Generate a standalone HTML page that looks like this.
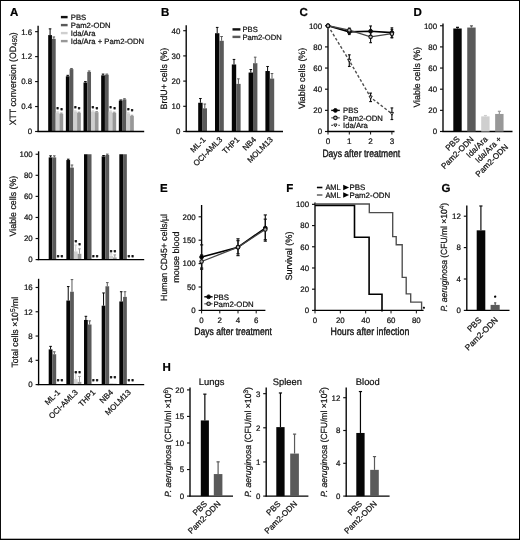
<!DOCTYPE html>
<html lang="en">
<head>
<meta charset="utf-8">
<title>Figure</title>
<style>
html,body{margin:0;padding:0;background:#fff;}
body{width:520px;height:540px;overflow:hidden;}
svg{display:block;filter:grayscale(1);font-family:"Liberation Sans",sans-serif;}
</style>
</head>
<body>
<svg width="520" height="540" viewBox="0 0 520 540" text-rendering="geometricPrecision">
<rect x="0" y="0" width="520" height="540" fill="#fff"/>
<text transform="translate(10 16.4)" font-size="11.5" fill="#000" font-weight="bold" stroke="#000" stroke-width="0.22">A</text>
<text transform="translate(161 16)" font-size="11.5" fill="#000" font-weight="bold" stroke="#000" stroke-width="0.22">B</text>
<text transform="translate(299.5 16)" font-size="11.5" fill="#000" font-weight="bold" stroke="#000" stroke-width="0.22">C</text>
<text transform="translate(413.5 16)" font-size="11.5" fill="#000" font-weight="bold" stroke="#000" stroke-width="0.22">D</text>
<text transform="translate(160 191.5)" font-size="11.5" fill="#000" font-weight="bold" stroke="#000" stroke-width="0.22">E</text>
<text transform="translate(286.3 191.5)" font-size="11.5" fill="#000" font-weight="bold" stroke="#000" stroke-width="0.22">F</text>
<text transform="translate(441.6 191.7)" font-size="11.5" fill="#000" font-weight="bold" stroke="#000" stroke-width="0.22">G</text>
<text transform="translate(162.4 371.2)" font-size="11.5" fill="#000" font-weight="bold" stroke="#000" stroke-width="0.22">H</text>
<line x1="38.1" y1="25.8" x2="38.1" y2="132" stroke="#000" stroke-width="1.35"/>
<line x1="35.1" y1="131.5" x2="38.1" y2="131.5" stroke="#111" stroke-width="1.15"/>
<text transform="translate(32.2 134.35)" font-size="7.9" fill="#111" text-anchor="end" stroke="#111" stroke-width="0.22">0</text>
<line x1="35.1" y1="106.54" x2="38.1" y2="106.54" stroke="#111" stroke-width="1.15"/>
<text transform="translate(32.2 109.39)" font-size="7.9" fill="#111" text-anchor="end" stroke="#111" stroke-width="0.22">0.4</text>
<line x1="35.1" y1="81.58" x2="38.1" y2="81.58" stroke="#111" stroke-width="1.15"/>
<text transform="translate(32.2 84.43)" font-size="7.9" fill="#111" text-anchor="end" stroke="#111" stroke-width="0.22">0.8</text>
<line x1="35.1" y1="56.62" x2="38.1" y2="56.62" stroke="#111" stroke-width="1.15"/>
<text transform="translate(32.2 59.47)" font-size="7.9" fill="#111" text-anchor="end" stroke="#111" stroke-width="0.22">1.2</text>
<line x1="35.1" y1="31.66" x2="38.1" y2="31.66" stroke="#111" stroke-width="1.15"/>
<text transform="translate(32.2 34.51)" font-size="7.9" fill="#111" text-anchor="end" stroke="#111" stroke-width="0.22">1.6</text>
<line x1="50.08" y1="28.85" x2="50.08" y2="35.09" stroke="#060606" stroke-width="1"/>
<line x1="48.78" y1="28.85" x2="51.38" y2="28.85" stroke="#060606" stroke-width="1"/>
<rect x="48.2" y="35.09" width="3.75" height="96.41" fill="#060606"/>
<line x1="53.83" y1="36.96" x2="53.83" y2="38.84" stroke="#5a5a5a" stroke-width="1"/>
<line x1="52.53" y1="36.96" x2="55.12" y2="36.96" stroke="#5a5a5a" stroke-width="1"/>
<rect x="51.95" y="38.84" width="3.75" height="92.66" fill="#5a5a5a"/>
<line x1="57.58" y1="111.84" x2="57.58" y2="112.47" stroke="#cfcfcf" stroke-width="1"/>
<line x1="56.28" y1="111.84" x2="58.88" y2="111.84" stroke="#cfcfcf" stroke-width="1"/>
<rect x="55.7" y="112.47" width="3.75" height="19.03" fill="#cfcfcf"/>
<line x1="61.33" y1="113.09" x2="61.33" y2="113.72" stroke="#989898" stroke-width="1"/>
<line x1="60.03" y1="113.09" x2="62.62" y2="113.09" stroke="#989898" stroke-width="1"/>
<rect x="59.45" y="113.72" width="3.75" height="17.78" fill="#989898"/>
<line x1="67.73" y1="75.34" x2="67.73" y2="76.28" stroke="#060606" stroke-width="1"/>
<line x1="66.44" y1="75.34" x2="69.03" y2="75.34" stroke="#060606" stroke-width="1"/>
<rect x="65.86" y="76.28" width="3.75" height="55.22" fill="#060606"/>
<line x1="71.48" y1="68.48" x2="71.48" y2="69.1" stroke="#5a5a5a" stroke-width="1"/>
<line x1="70.19" y1="68.48" x2="72.78" y2="68.48" stroke="#5a5a5a" stroke-width="1"/>
<rect x="69.61" y="69.1" width="3.75" height="62.4" fill="#5a5a5a"/>
<line x1="75.23" y1="110.91" x2="75.23" y2="111.53" stroke="#cfcfcf" stroke-width="1"/>
<line x1="73.94" y1="110.91" x2="76.53" y2="110.91" stroke="#cfcfcf" stroke-width="1"/>
<rect x="73.36" y="111.53" width="3.75" height="19.97" fill="#cfcfcf"/>
<line x1="78.98" y1="112.16" x2="78.98" y2="112.78" stroke="#989898" stroke-width="1"/>
<line x1="77.69" y1="112.16" x2="80.28" y2="112.16" stroke="#989898" stroke-width="1"/>
<rect x="77.11" y="112.78" width="3.75" height="18.72" fill="#989898"/>
<line x1="85.4" y1="81.58" x2="85.4" y2="82.52" stroke="#060606" stroke-width="1"/>
<line x1="84.1" y1="81.58" x2="86.7" y2="81.58" stroke="#060606" stroke-width="1"/>
<rect x="83.52" y="82.52" width="3.75" height="48.98" fill="#060606"/>
<line x1="89.15" y1="70.97" x2="89.15" y2="71.91" stroke="#5a5a5a" stroke-width="1"/>
<line x1="87.85" y1="70.97" x2="90.45" y2="70.97" stroke="#5a5a5a" stroke-width="1"/>
<rect x="87.27" y="71.91" width="3.75" height="59.59" fill="#5a5a5a"/>
<line x1="92.9" y1="110.91" x2="92.9" y2="111.53" stroke="#cfcfcf" stroke-width="1"/>
<line x1="91.6" y1="110.91" x2="94.2" y2="110.91" stroke="#cfcfcf" stroke-width="1"/>
<rect x="91.02" y="111.53" width="3.75" height="19.97" fill="#cfcfcf"/>
<line x1="96.65" y1="111.53" x2="96.65" y2="112.16" stroke="#989898" stroke-width="1"/>
<line x1="95.35" y1="111.53" x2="97.95" y2="111.53" stroke="#989898" stroke-width="1"/>
<rect x="94.77" y="112.16" width="3.75" height="19.34" fill="#989898"/>
<line x1="103.06" y1="74.09" x2="103.06" y2="75.34" stroke="#060606" stroke-width="1"/>
<line x1="101.76" y1="74.09" x2="104.36" y2="74.09" stroke="#060606" stroke-width="1"/>
<rect x="101.18" y="75.34" width="3.75" height="56.16" fill="#060606"/>
<line x1="106.81" y1="74.09" x2="106.81" y2="74.72" stroke="#5a5a5a" stroke-width="1"/>
<line x1="105.51" y1="74.09" x2="108.11" y2="74.09" stroke="#5a5a5a" stroke-width="1"/>
<rect x="104.93" y="74.72" width="3.75" height="56.78" fill="#5a5a5a"/>
<line x1="110.56" y1="110.91" x2="110.56" y2="111.53" stroke="#cfcfcf" stroke-width="1"/>
<line x1="109.26" y1="110.91" x2="111.86" y2="110.91" stroke="#cfcfcf" stroke-width="1"/>
<rect x="108.68" y="111.53" width="3.75" height="19.97" fill="#cfcfcf"/>
<line x1="114.31" y1="112.16" x2="114.31" y2="112.78" stroke="#989898" stroke-width="1"/>
<line x1="113.01" y1="112.16" x2="115.61" y2="112.16" stroke="#989898" stroke-width="1"/>
<rect x="112.43" y="112.78" width="3.75" height="18.72" fill="#989898"/>
<line x1="120.72" y1="99.99" x2="120.72" y2="100.61" stroke="#060606" stroke-width="1"/>
<line x1="119.42" y1="99.99" x2="122.02" y2="99.99" stroke="#060606" stroke-width="1"/>
<rect x="118.84" y="100.61" width="3.75" height="30.89" fill="#060606"/>
<line x1="124.47" y1="98.74" x2="124.47" y2="99.36" stroke="#5a5a5a" stroke-width="1"/>
<line x1="123.17" y1="98.74" x2="125.77" y2="98.74" stroke="#5a5a5a" stroke-width="1"/>
<rect x="122.59" y="99.36" width="3.75" height="32.14" fill="#5a5a5a"/>
<line x1="128.22" y1="112.78" x2="128.22" y2="113.4" stroke="#cfcfcf" stroke-width="1"/>
<line x1="126.92" y1="112.78" x2="129.52" y2="112.78" stroke="#cfcfcf" stroke-width="1"/>
<rect x="126.34" y="113.4" width="3.75" height="18.1" fill="#cfcfcf"/>
<line x1="131.97" y1="115.28" x2="131.97" y2="115.9" stroke="#989898" stroke-width="1"/>
<line x1="130.66" y1="115.28" x2="133.27" y2="115.28" stroke="#989898" stroke-width="1"/>
<rect x="130.09" y="115.9" width="3.75" height="15.6" fill="#989898"/>
<line x1="37.5" y1="131.5" x2="144.2" y2="131.5" stroke="#000" stroke-width="1.35"/>
<text transform="translate(57.58 111.06)" font-size="5.6" fill="#000" text-anchor="middle" font-weight="bold" stroke="#000" stroke-width="0.42">*</text>
<text transform="translate(61.53 111.88)" font-size="5.6" fill="#000" text-anchor="middle" font-weight="bold" stroke="#000" stroke-width="0.42">*</text>
<text transform="translate(75.23 110.12)" font-size="5.6" fill="#000" text-anchor="middle" font-weight="bold" stroke="#000" stroke-width="0.42">*</text>
<text transform="translate(79.19 110.94)" font-size="5.6" fill="#000" text-anchor="middle" font-weight="bold" stroke="#000" stroke-width="0.42">*</text>
<text transform="translate(92.9 110.12)" font-size="5.6" fill="#000" text-anchor="middle" font-weight="bold" stroke="#000" stroke-width="0.42">*</text>
<text transform="translate(96.85 110.63)" font-size="5.6" fill="#000" text-anchor="middle" font-weight="bold" stroke="#000" stroke-width="0.42">*</text>
<text transform="translate(110.56 110.12)" font-size="5.6" fill="#000" text-anchor="middle" font-weight="bold" stroke="#000" stroke-width="0.42">*</text>
<text transform="translate(114.51 110.94)" font-size="5.6" fill="#000" text-anchor="middle" font-weight="bold" stroke="#000" stroke-width="0.42">*</text>
<text transform="translate(128.22 111.99)" font-size="5.6" fill="#000" text-anchor="middle" font-weight="bold" stroke="#000" stroke-width="0.42">*</text>
<text transform="translate(132.16 113.44)" font-size="5.6" fill="#000" text-anchor="middle" font-weight="bold" stroke="#000" stroke-width="0.42">*</text>
<text transform="translate(15.7 125.3) rotate(-90) scale(0.95 1)" font-size="9.2" fill="#111" stroke="#111" stroke-width="0.22">XTT conversion (OD<tspan font-size="6.8" dy="1.6">450</tspan><tspan dy="-1.6">)</tspan></text>
<rect x="60.9" y="15.9" width="6.7" height="2.4" fill="#111"/>
<text transform="translate(70.8 19.8)" font-size="7.7" fill="#111" stroke="#111" stroke-width="0.22">PBS</text>
<rect x="60.9" y="23.9" width="6.7" height="2.4" fill="#5a5a5a"/>
<text transform="translate(70.8 27.8)" font-size="7.7" fill="#111" stroke="#111" stroke-width="0.22">Pam2-ODN</text>
<rect x="60.9" y="31.9" width="6.7" height="2.4" fill="#cfcfcf"/>
<text transform="translate(70.8 35.8)" font-size="7.7" fill="#111" stroke="#111" stroke-width="0.22">Ida/Ara</text>
<rect x="60.9" y="39.9" width="6.7" height="2.4" fill="#989898"/>
<text transform="translate(70.8 43.8)" font-size="7.7" fill="#111" stroke="#111" stroke-width="0.22">Ida/Ara + Pam2-ODN</text>
<line x1="38.6" y1="151.3" x2="38.6" y2="260.1" stroke="#000" stroke-width="1.35"/>
<line x1="35.6" y1="259.6" x2="38.6" y2="259.6" stroke="#111" stroke-width="1.15"/>
<text transform="translate(32.7 262.45)" font-size="7.9" fill="#111" text-anchor="end" stroke="#111" stroke-width="0.22">0</text>
<line x1="35.6" y1="238.53" x2="38.6" y2="238.53" stroke="#111" stroke-width="1.15"/>
<text transform="translate(32.7 241.38)" font-size="7.9" fill="#111" text-anchor="end" stroke="#111" stroke-width="0.22">20</text>
<line x1="35.6" y1="217.46" x2="38.6" y2="217.46" stroke="#111" stroke-width="1.15"/>
<text transform="translate(32.7 220.31)" font-size="7.9" fill="#111" text-anchor="end" stroke="#111" stroke-width="0.22">40</text>
<line x1="35.6" y1="196.39" x2="38.6" y2="196.39" stroke="#111" stroke-width="1.15"/>
<text transform="translate(32.7 199.24)" font-size="7.9" fill="#111" text-anchor="end" stroke="#111" stroke-width="0.22">60</text>
<line x1="35.6" y1="175.32" x2="38.6" y2="175.32" stroke="#111" stroke-width="1.15"/>
<text transform="translate(32.7 178.17)" font-size="7.9" fill="#111" text-anchor="end" stroke="#111" stroke-width="0.22">80</text>
<line x1="35.6" y1="154.25" x2="38.6" y2="154.25" stroke="#111" stroke-width="1.15"/>
<text transform="translate(32.7 157.1)" font-size="7.9" fill="#111" text-anchor="end" stroke="#111" stroke-width="0.22">100</text>
<line x1="50.58" y1="155.83" x2="50.58" y2="157.41" stroke="#060606" stroke-width="1"/>
<line x1="49.28" y1="155.83" x2="51.88" y2="155.83" stroke="#060606" stroke-width="1"/>
<rect x="48.7" y="157.41" width="3.75" height="102.19" fill="#060606"/>
<line x1="54.33" y1="155.83" x2="54.33" y2="157.41" stroke="#5a5a5a" stroke-width="1"/>
<line x1="53.03" y1="155.83" x2="55.62" y2="155.83" stroke="#5a5a5a" stroke-width="1"/>
<rect x="52.45" y="157.41" width="3.75" height="102.19" fill="#5a5a5a"/>
<line x1="68.23" y1="159.2" x2="68.23" y2="160.04" stroke="#060606" stroke-width="1"/>
<line x1="66.94" y1="159.2" x2="69.53" y2="159.2" stroke="#060606" stroke-width="1"/>
<rect x="66.36" y="160.04" width="3.75" height="99.56" fill="#060606"/>
<line x1="71.98" y1="165" x2="71.98" y2="167.63" stroke="#5a5a5a" stroke-width="1"/>
<line x1="70.69" y1="165" x2="73.28" y2="165" stroke="#5a5a5a" stroke-width="1"/>
<rect x="70.11" y="167.63" width="3.75" height="91.97" fill="#5a5a5a"/>
<line x1="75.73" y1="245.06" x2="75.73" y2="251.38" stroke="#cfcfcf" stroke-width="1"/>
<line x1="74.44" y1="245.06" x2="77.03" y2="245.06" stroke="#cfcfcf" stroke-width="1"/>
<rect x="73.86" y="251.38" width="3.75" height="8.22" fill="#cfcfcf"/>
<line x1="79.48" y1="248.85" x2="79.48" y2="253.81" stroke="#989898" stroke-width="1"/>
<line x1="78.19" y1="248.85" x2="80.78" y2="248.85" stroke="#989898" stroke-width="1"/>
<rect x="77.61" y="253.81" width="3.75" height="5.79" fill="#989898"/>
<rect x="84.02" y="154.25" width="3.75" height="105.35" fill="#060606"/>
<rect x="87.77" y="154.25" width="3.75" height="105.35" fill="#5a5a5a"/>
<line x1="103.56" y1="155.51" x2="103.56" y2="156.36" stroke="#060606" stroke-width="1"/>
<line x1="102.26" y1="155.51" x2="104.86" y2="155.51" stroke="#060606" stroke-width="1"/>
<rect x="101.68" y="156.36" width="3.75" height="103.24" fill="#060606"/>
<line x1="107.31" y1="154.14" x2="107.31" y2="154.99" stroke="#5a5a5a" stroke-width="1"/>
<line x1="106.01" y1="154.14" x2="108.61" y2="154.14" stroke="#5a5a5a" stroke-width="1"/>
<rect x="105.43" y="154.99" width="3.75" height="104.61" fill="#5a5a5a"/>
<line x1="111.06" y1="253.81" x2="111.06" y2="255.91" stroke="#cfcfcf" stroke-width="1"/>
<line x1="109.76" y1="253.81" x2="112.36" y2="253.81" stroke="#cfcfcf" stroke-width="1"/>
<rect x="109.18" y="255.91" width="3.75" height="3.69" fill="#cfcfcf"/>
<line x1="114.81" y1="254.86" x2="114.81" y2="257.49" stroke="#989898" stroke-width="1"/>
<line x1="113.51" y1="254.86" x2="116.11" y2="254.86" stroke="#989898" stroke-width="1"/>
<rect x="112.93" y="257.49" width="3.75" height="2.11" fill="#989898"/>
<rect x="119.34" y="154.25" width="3.75" height="105.35" fill="#060606"/>
<rect x="123.09" y="154.25" width="3.75" height="105.35" fill="#5a5a5a"/>
<line x1="37.5" y1="259.6" x2="144.2" y2="259.6" stroke="#000" stroke-width="1.35"/>
<text transform="translate(58.08 258.89)" font-size="5.6" fill="#000" text-anchor="middle" font-weight="bold" stroke="#000" stroke-width="0.42">*</text>
<text transform="translate(61.83 258.89)" font-size="5.6" fill="#000" text-anchor="middle" font-weight="bold" stroke="#000" stroke-width="0.42">*</text>
<text transform="translate(75.73 243.99)" font-size="5.6" fill="#000" text-anchor="middle" font-weight="bold" stroke="#000" stroke-width="0.42">*</text>
<text transform="translate(79.48 247.09)" font-size="5.6" fill="#000" text-anchor="middle" font-weight="bold" stroke="#000" stroke-width="0.42">*</text>
<text transform="translate(93.4 258.89)" font-size="5.6" fill="#000" text-anchor="middle" font-weight="bold" stroke="#000" stroke-width="0.42">*</text>
<text transform="translate(97.15 258.89)" font-size="5.6" fill="#000" text-anchor="middle" font-weight="bold" stroke="#000" stroke-width="0.42">*</text>
<text transform="translate(111.06 253.89)" font-size="5.6" fill="#000" text-anchor="middle" font-weight="bold" stroke="#000" stroke-width="0.42">*</text>
<text transform="translate(114.81 253.89)" font-size="5.6" fill="#000" text-anchor="middle" font-weight="bold" stroke="#000" stroke-width="0.42">*</text>
<text transform="translate(128.72 258.89)" font-size="5.6" fill="#000" text-anchor="middle" font-weight="bold" stroke="#000" stroke-width="0.42">*</text>
<text transform="translate(132.47 258.89)" font-size="5.6" fill="#000" text-anchor="middle" font-weight="bold" stroke="#000" stroke-width="0.42">*</text>
<text transform="translate(16 236.4) rotate(-90) scale(0.97 1)" font-size="9.1" fill="#111" stroke="#111" stroke-width="0.22">Viable cells (%)</text>
<line x1="38.6" y1="278.8" x2="38.6" y2="385.1" stroke="#000" stroke-width="1.35"/>
<line x1="35.6" y1="384.6" x2="38.6" y2="384.6" stroke="#111" stroke-width="1.15"/>
<text transform="translate(32.7 387.45)" font-size="7.9" fill="#111" text-anchor="end" stroke="#111" stroke-width="0.22">0</text>
<line x1="35.6" y1="360.32" x2="38.6" y2="360.32" stroke="#111" stroke-width="1.15"/>
<text transform="translate(32.7 363.17)" font-size="7.9" fill="#111" text-anchor="end" stroke="#111" stroke-width="0.22">4</text>
<line x1="35.6" y1="336.04" x2="38.6" y2="336.04" stroke="#111" stroke-width="1.15"/>
<text transform="translate(32.7 338.89)" font-size="7.9" fill="#111" text-anchor="end" stroke="#111" stroke-width="0.22">8</text>
<line x1="35.6" y1="311.76" x2="38.6" y2="311.76" stroke="#111" stroke-width="1.15"/>
<text transform="translate(32.7 314.61)" font-size="7.9" fill="#111" text-anchor="end" stroke="#111" stroke-width="0.22">12</text>
<line x1="35.6" y1="287.48" x2="38.6" y2="287.48" stroke="#111" stroke-width="1.15"/>
<text transform="translate(32.7 290.33)" font-size="7.9" fill="#111" text-anchor="end" stroke="#111" stroke-width="0.22">16</text>
<line x1="50.58" y1="346.36" x2="50.58" y2="349.39" stroke="#060606" stroke-width="1"/>
<line x1="49.28" y1="346.36" x2="51.88" y2="346.36" stroke="#060606" stroke-width="1"/>
<rect x="48.7" y="349.39" width="3.75" height="35.21" fill="#060606"/>
<line x1="54.33" y1="351.82" x2="54.33" y2="354.25" stroke="#5a5a5a" stroke-width="1"/>
<line x1="53.03" y1="351.82" x2="55.62" y2="351.82" stroke="#5a5a5a" stroke-width="1"/>
<rect x="52.45" y="354.25" width="3.75" height="30.35" fill="#5a5a5a"/>
<line x1="68.23" y1="286.57" x2="68.23" y2="300.53" stroke="#060606" stroke-width="1"/>
<line x1="66.94" y1="286.57" x2="69.53" y2="286.57" stroke="#060606" stroke-width="1"/>
<rect x="66.36" y="300.53" width="3.75" height="84.07" fill="#060606"/>
<line x1="71.98" y1="279.59" x2="71.98" y2="291.73" stroke="#5a5a5a" stroke-width="1"/>
<line x1="70.69" y1="279.59" x2="73.28" y2="279.59" stroke="#5a5a5a" stroke-width="1"/>
<rect x="70.11" y="291.73" width="3.75" height="92.87" fill="#5a5a5a"/>
<line x1="75.73" y1="372.46" x2="75.73" y2="379.14" stroke="#cfcfcf" stroke-width="1"/>
<line x1="74.44" y1="372.46" x2="77.03" y2="372.46" stroke="#cfcfcf" stroke-width="1"/>
<rect x="73.86" y="379.14" width="3.75" height="5.46" fill="#cfcfcf"/>
<line x1="79.48" y1="376.41" x2="79.48" y2="381.87" stroke="#989898" stroke-width="1"/>
<line x1="78.19" y1="376.41" x2="80.78" y2="376.41" stroke="#989898" stroke-width="1"/>
<rect x="77.61" y="381.87" width="3.75" height="2.73" fill="#989898"/>
<line x1="85.9" y1="316.31" x2="85.9" y2="319.95" stroke="#060606" stroke-width="1"/>
<line x1="84.6" y1="316.31" x2="87.2" y2="316.31" stroke="#060606" stroke-width="1"/>
<rect x="84.02" y="319.95" width="3.75" height="64.65" fill="#060606"/>
<line x1="89.65" y1="320.87" x2="89.65" y2="324.51" stroke="#5a5a5a" stroke-width="1"/>
<line x1="88.35" y1="320.87" x2="90.95" y2="320.87" stroke="#5a5a5a" stroke-width="1"/>
<rect x="87.77" y="324.51" width="3.75" height="60.09" fill="#5a5a5a"/>
<line x1="103.56" y1="292.94" x2="103.56" y2="305.69" stroke="#060606" stroke-width="1"/>
<line x1="102.26" y1="292.94" x2="104.86" y2="292.94" stroke="#060606" stroke-width="1"/>
<rect x="101.68" y="305.69" width="3.75" height="78.91" fill="#060606"/>
<line x1="107.31" y1="282.62" x2="107.31" y2="286.27" stroke="#5a5a5a" stroke-width="1"/>
<line x1="106.01" y1="282.62" x2="108.61" y2="282.62" stroke="#5a5a5a" stroke-width="1"/>
<rect x="105.43" y="286.27" width="3.75" height="98.33" fill="#5a5a5a"/>
<rect x="109.18" y="383.08" width="3.75" height="1.52" fill="#cfcfcf"/>
<rect x="112.93" y="383.69" width="3.75" height="0.91" fill="#989898"/>
<line x1="121.22" y1="291.73" x2="121.22" y2="301.44" stroke="#060606" stroke-width="1"/>
<line x1="119.92" y1="291.73" x2="122.52" y2="291.73" stroke="#060606" stroke-width="1"/>
<rect x="119.34" y="301.44" width="3.75" height="83.16" fill="#060606"/>
<line x1="124.97" y1="291.73" x2="124.97" y2="296.89" stroke="#5a5a5a" stroke-width="1"/>
<line x1="123.67" y1="291.73" x2="126.27" y2="291.73" stroke="#5a5a5a" stroke-width="1"/>
<rect x="123.09" y="296.89" width="3.75" height="87.71" fill="#5a5a5a"/>
<line x1="37.5" y1="384.6" x2="144.2" y2="384.6" stroke="#000" stroke-width="1.35"/>
<text transform="translate(58.08 382.69)" font-size="5.6" fill="#000" text-anchor="middle" font-weight="bold" stroke="#000" stroke-width="0.42">*</text>
<text transform="translate(61.83 382.69)" font-size="5.6" fill="#000" text-anchor="middle" font-weight="bold" stroke="#000" stroke-width="0.42">*</text>
<text transform="translate(75.73 375.29)" font-size="5.6" fill="#000" text-anchor="middle" font-weight="bold" stroke="#000" stroke-width="0.42">*</text>
<text transform="translate(79.48 375.29)" font-size="5.6" fill="#000" text-anchor="middle" font-weight="bold" stroke="#000" stroke-width="0.42">*</text>
<text transform="translate(93.4 382.69)" font-size="5.6" fill="#000" text-anchor="middle" font-weight="bold" stroke="#000" stroke-width="0.42">*</text>
<text transform="translate(97.15 382.69)" font-size="5.6" fill="#000" text-anchor="middle" font-weight="bold" stroke="#000" stroke-width="0.42">*</text>
<text transform="translate(111.06 380.09)" font-size="5.6" fill="#000" text-anchor="middle" font-weight="bold" stroke="#000" stroke-width="0.42">*</text>
<text transform="translate(114.81 380.09)" font-size="5.6" fill="#000" text-anchor="middle" font-weight="bold" stroke="#000" stroke-width="0.42">*</text>
<text transform="translate(128.72 382.69)" font-size="5.6" fill="#000" text-anchor="middle" font-weight="bold" stroke="#000" stroke-width="0.42">*</text>
<text transform="translate(132.47 382.69)" font-size="5.6" fill="#000" text-anchor="middle" font-weight="bold" stroke="#000" stroke-width="0.42">*</text>
<text transform="translate(17.9 367.6) rotate(-90) scale(0.96 1)" font-size="9.1" fill="#111" stroke="#111" stroke-width="0.22">Total cells ×10<tspan font-size="6.8" dy="-3">5</tspan><tspan dy="3">/ml</tspan></text>
<text transform="translate(60.6 392.9) rotate(-45)" font-size="7.9" fill="#111" text-anchor="end" stroke="#111" stroke-width="0.22">ML-1</text>
<text transform="translate(78.26 392.9) rotate(-45)" font-size="7.9" fill="#111" text-anchor="end" stroke="#111" stroke-width="0.22">OCI-AML3</text>
<text transform="translate(95.92 392.9) rotate(-45)" font-size="7.9" fill="#111" text-anchor="end" stroke="#111" stroke-width="0.22">THP1</text>
<text transform="translate(113.58 392.9) rotate(-45)" font-size="7.9" fill="#111" text-anchor="end" stroke="#111" stroke-width="0.22">NB4</text>
<text transform="translate(131.24 392.9) rotate(-45)" font-size="7.9" fill="#111" text-anchor="end" stroke="#111" stroke-width="0.22">MOLM13</text>
<line x1="186.2" y1="25.3" x2="186.2" y2="132" stroke="#000" stroke-width="1.35"/>
<line x1="183.2" y1="131.5" x2="186.2" y2="131.5" stroke="#111" stroke-width="1.15"/>
<text transform="translate(180.3 134.35)" font-size="7.9" fill="#111" text-anchor="end" stroke="#111" stroke-width="0.22">0</text>
<line x1="183.2" y1="106.3" x2="186.2" y2="106.3" stroke="#111" stroke-width="1.15"/>
<text transform="translate(180.3 109.15)" font-size="7.9" fill="#111" text-anchor="end" stroke="#111" stroke-width="0.22">10</text>
<line x1="183.2" y1="81.1" x2="186.2" y2="81.1" stroke="#111" stroke-width="1.15"/>
<text transform="translate(180.3 83.95)" font-size="7.9" fill="#111" text-anchor="end" stroke="#111" stroke-width="0.22">20</text>
<line x1="183.2" y1="55.9" x2="186.2" y2="55.9" stroke="#111" stroke-width="1.15"/>
<text transform="translate(180.3 58.75)" font-size="7.9" fill="#111" text-anchor="end" stroke="#111" stroke-width="0.22">30</text>
<line x1="183.2" y1="30.7" x2="186.2" y2="30.7" stroke="#111" stroke-width="1.15"/>
<text transform="translate(180.3 33.55)" font-size="7.9" fill="#111" text-anchor="end" stroke="#111" stroke-width="0.22">40</text>
<line x1="200.4" y1="98.49" x2="200.4" y2="102.77" stroke="#060606" stroke-width="1"/>
<line x1="199.1" y1="98.49" x2="201.7" y2="98.49" stroke="#060606" stroke-width="1"/>
<rect x="198.2" y="102.77" width="4.4" height="28.73" fill="#060606"/>
<line x1="204.8" y1="104.03" x2="204.8" y2="108.32" stroke="#5a5a5a" stroke-width="1"/>
<line x1="203.5" y1="104.03" x2="206.1" y2="104.03" stroke="#5a5a5a" stroke-width="1"/>
<rect x="202.6" y="108.32" width="4.4" height="23.18" fill="#5a5a5a"/>
<line x1="217.2" y1="27.42" x2="217.2" y2="33.22" stroke="#060606" stroke-width="1"/>
<line x1="215.9" y1="27.42" x2="218.5" y2="27.42" stroke="#060606" stroke-width="1"/>
<rect x="215" y="33.22" width="4.4" height="98.28" fill="#060606"/>
<line x1="221.6" y1="36.5" x2="221.6" y2="40.78" stroke="#5a5a5a" stroke-width="1"/>
<line x1="220.3" y1="36.5" x2="222.9" y2="36.5" stroke="#5a5a5a" stroke-width="1"/>
<rect x="219.4" y="40.78" width="4.4" height="90.72" fill="#5a5a5a"/>
<line x1="234" y1="59.43" x2="234" y2="64.47" stroke="#060606" stroke-width="1"/>
<line x1="232.7" y1="59.43" x2="235.3" y2="59.43" stroke="#060606" stroke-width="1"/>
<rect x="231.8" y="64.47" width="4.4" height="67.03" fill="#060606"/>
<line x1="238.4" y1="78.83" x2="238.4" y2="83.87" stroke="#5a5a5a" stroke-width="1"/>
<line x1="237.1" y1="78.83" x2="239.7" y2="78.83" stroke="#5a5a5a" stroke-width="1"/>
<rect x="236.2" y="83.87" width="4.4" height="47.63" fill="#5a5a5a"/>
<line x1="250.8" y1="69.51" x2="250.8" y2="72.53" stroke="#060606" stroke-width="1"/>
<line x1="249.5" y1="69.51" x2="252.1" y2="69.51" stroke="#060606" stroke-width="1"/>
<rect x="248.6" y="72.53" width="4.4" height="58.97" fill="#060606"/>
<line x1="255.2" y1="57.16" x2="255.2" y2="63.21" stroke="#5a5a5a" stroke-width="1"/>
<line x1="253.9" y1="57.16" x2="256.5" y2="57.16" stroke="#5a5a5a" stroke-width="1"/>
<rect x="253" y="63.21" width="4.4" height="68.29" fill="#5a5a5a"/>
<line x1="267.6" y1="66.48" x2="267.6" y2="71.02" stroke="#060606" stroke-width="1"/>
<line x1="266.3" y1="66.48" x2="268.9" y2="66.48" stroke="#060606" stroke-width="1"/>
<rect x="265.4" y="71.02" width="4.4" height="60.48" fill="#060606"/>
<line x1="272" y1="73.54" x2="272" y2="78.58" stroke="#5a5a5a" stroke-width="1"/>
<line x1="270.7" y1="73.54" x2="273.3" y2="73.54" stroke="#5a5a5a" stroke-width="1"/>
<rect x="269.8" y="78.58" width="4.4" height="52.92" fill="#5a5a5a"/>
<line x1="185.6" y1="131.5" x2="283" y2="131.5" stroke="#000" stroke-width="1.35"/>
<text transform="translate(206.15 140.2) rotate(-45)" font-size="7.9" fill="#111" text-anchor="end" stroke="#111" stroke-width="0.22">ML-1</text>
<text transform="translate(222.95 140.2) rotate(-45)" font-size="7.9" fill="#111" text-anchor="end" stroke="#111" stroke-width="0.22">OCI-AML3</text>
<text transform="translate(239.75 140.2) rotate(-45)" font-size="7.9" fill="#111" text-anchor="end" stroke="#111" stroke-width="0.22">THP1</text>
<text transform="translate(256.55 140.2) rotate(-45)" font-size="7.9" fill="#111" text-anchor="end" stroke="#111" stroke-width="0.22">NB4</text>
<text transform="translate(273.35 140.2) rotate(-45)" font-size="7.9" fill="#111" text-anchor="end" stroke="#111" stroke-width="0.22">MOLM13</text>
<text transform="translate(167.2 109.4) rotate(-90) scale(0.96 1)" font-size="9.2" fill="#111" stroke="#111" stroke-width="0.22">BrdU+ cells (%)</text>
<rect x="232.5" y="28.2" width="7.9" height="2.4" fill="#111"/>
<text transform="translate(242.5 32.1)" font-size="7.6" fill="#111" stroke="#111" stroke-width="0.22">PBS</text>
<rect x="232.5" y="35.7" width="7.9" height="2.4" fill="#5a5a5a"/>
<text transform="translate(242.5 39.6)" font-size="7.6" fill="#111" stroke="#111" stroke-width="0.22">Pam2-ODN</text>
<line x1="328" y1="23.5" x2="328" y2="132" stroke="#000" stroke-width="1.35"/>
<line x1="325" y1="131.5" x2="328" y2="131.5" stroke="#111" stroke-width="1.15"/>
<text transform="translate(322.1 134.35)" font-size="7.9" fill="#111" text-anchor="end" stroke="#111" stroke-width="0.22">0</text>
<line x1="325" y1="110.35" x2="328" y2="110.35" stroke="#111" stroke-width="1.15"/>
<text transform="translate(322.1 113.2)" font-size="7.9" fill="#111" text-anchor="end" stroke="#111" stroke-width="0.22">20</text>
<line x1="325" y1="89.2" x2="328" y2="89.2" stroke="#111" stroke-width="1.15"/>
<text transform="translate(322.1 92.05)" font-size="7.9" fill="#111" text-anchor="end" stroke="#111" stroke-width="0.22">40</text>
<line x1="325" y1="68.05" x2="328" y2="68.05" stroke="#111" stroke-width="1.15"/>
<text transform="translate(322.1 70.9)" font-size="7.9" fill="#111" text-anchor="end" stroke="#111" stroke-width="0.22">60</text>
<line x1="325" y1="46.9" x2="328" y2="46.9" stroke="#111" stroke-width="1.15"/>
<text transform="translate(322.1 49.75)" font-size="7.9" fill="#111" text-anchor="end" stroke="#111" stroke-width="0.22">80</text>
<line x1="325" y1="25.75" x2="328" y2="25.75" stroke="#111" stroke-width="1.15"/>
<text transform="translate(322.1 28.6)" font-size="7.9" fill="#111" text-anchor="end" stroke="#111" stroke-width="0.22">100</text>
<line x1="327.4" y1="131.5" x2="394.5" y2="131.5" stroke="#000" stroke-width="1.35"/>
<line x1="328" y1="131.5" x2="328" y2="134.5" stroke="#111" stroke-width="1"/>
<text transform="translate(328 144.1)" font-size="8.1" fill="#111" text-anchor="middle" stroke="#111" stroke-width="0.22">0</text>
<line x1="349.3" y1="131.5" x2="349.3" y2="134.5" stroke="#111" stroke-width="1"/>
<text transform="translate(349.3 144.1)" font-size="8.1" fill="#111" text-anchor="middle" stroke="#111" stroke-width="0.22">1</text>
<line x1="370.6" y1="131.5" x2="370.6" y2="134.5" stroke="#111" stroke-width="1"/>
<text transform="translate(370.6 144.1)" font-size="8.1" fill="#111" text-anchor="middle" stroke="#111" stroke-width="0.22">2</text>
<line x1="391.9" y1="131.5" x2="391.9" y2="134.5" stroke="#111" stroke-width="1"/>
<text transform="translate(391.9 144.1)" font-size="8.1" fill="#111" text-anchor="middle" stroke="#111" stroke-width="0.22">3</text>
<text transform="translate(322.4 156.5) scale(0.81 1)" font-size="10.6" fill="#111" stroke="#111" stroke-width="0.36">Days after treatment</text>
<polyline fill="none" stroke="#505050" stroke-width="1.4" stroke-dasharray="2.8 2" points="328,25.75 349.3,60.65 370.6,97.34 391.9,113.73"/>
<polyline fill="none" stroke="#000" stroke-width="1.65" points="328,25.75 349.3,31.88 370.6,31.25 391.9,32.62"/>
<polyline fill="none" stroke="#444" stroke-width="1.35" points="328,25.75 349.3,30.19 370.6,36.85 391.9,33.68"/>
<path d="M326.4 24.47 L329.6 24.47 L328 27.35Z" fill="#fff" stroke="#111" stroke-width="0.9"/>
<line x1="349.3" y1="54.83" x2="349.3" y2="66.46" stroke="#111" stroke-width="1.15"/>
<line x1="347.95" y1="54.83" x2="350.65" y2="54.83" stroke="#111" stroke-width="1.15"/>
<line x1="347.95" y1="66.46" x2="350.65" y2="66.46" stroke="#111" stroke-width="1.15"/>
<path d="M347.7 59.37 L350.9 59.37 L349.3 62.25Z" fill="#fff" stroke="#111" stroke-width="0.9"/>
<line x1="370.6" y1="93.11" x2="370.6" y2="101.57" stroke="#111" stroke-width="1.15"/>
<line x1="369.25" y1="93.11" x2="371.95" y2="93.11" stroke="#111" stroke-width="1.15"/>
<line x1="369.25" y1="101.57" x2="371.95" y2="101.57" stroke="#111" stroke-width="1.15"/>
<path d="M369 96.06 L372.2 96.06 L370.6 98.94Z" fill="#fff" stroke="#111" stroke-width="0.9"/>
<line x1="391.9" y1="107.92" x2="391.9" y2="119.55" stroke="#111" stroke-width="1.15"/>
<line x1="390.55" y1="107.92" x2="393.25" y2="107.92" stroke="#111" stroke-width="1.15"/>
<line x1="390.55" y1="119.55" x2="393.25" y2="119.55" stroke="#111" stroke-width="1.15"/>
<path d="M390.3 112.45 L393.5 112.45 L391.9 115.33Z" fill="#fff" stroke="#111" stroke-width="0.9"/>
<circle cx="328" cy="25.75" r="1.9" fill="#000" stroke="#111" stroke-width="1"/>
<line x1="349.3" y1="29.24" x2="349.3" y2="34.53" stroke="#111" stroke-width="1.15"/>
<line x1="347.95" y1="29.24" x2="350.65" y2="29.24" stroke="#111" stroke-width="1.15"/>
<line x1="347.95" y1="34.53" x2="350.65" y2="34.53" stroke="#111" stroke-width="1.15"/>
<circle cx="349.3" cy="31.88" r="1.9" fill="#000" stroke="#111" stroke-width="1"/>
<line x1="370.6" y1="25.96" x2="370.6" y2="36.54" stroke="#111" stroke-width="1.15"/>
<line x1="369.25" y1="25.96" x2="371.95" y2="25.96" stroke="#111" stroke-width="1.15"/>
<line x1="369.25" y1="36.54" x2="371.95" y2="36.54" stroke="#111" stroke-width="1.15"/>
<circle cx="370.6" cy="31.25" r="1.9" fill="#000" stroke="#111" stroke-width="1"/>
<line x1="391.9" y1="27.86" x2="391.9" y2="37.38" stroke="#111" stroke-width="1.15"/>
<line x1="390.55" y1="27.86" x2="393.25" y2="27.86" stroke="#111" stroke-width="1.15"/>
<line x1="390.55" y1="37.38" x2="393.25" y2="37.38" stroke="#111" stroke-width="1.15"/>
<circle cx="391.9" cy="32.62" r="1.9" fill="#000" stroke="#111" stroke-width="1"/>
<circle cx="328" cy="25.75" r="1.75" fill="#b8b8b8" stroke="#111" stroke-width="1.1"/>
<line x1="349.3" y1="28.08" x2="349.3" y2="32.31" stroke="#111" stroke-width="1.15"/>
<line x1="347.95" y1="28.08" x2="350.65" y2="28.08" stroke="#111" stroke-width="1.15"/>
<line x1="347.95" y1="32.31" x2="350.65" y2="32.31" stroke="#111" stroke-width="1.15"/>
<circle cx="349.3" cy="30.19" r="1.75" fill="#b8b8b8" stroke="#111" stroke-width="1.1"/>
<line x1="370.6" y1="31.04" x2="370.6" y2="42.67" stroke="#111" stroke-width="1.15"/>
<line x1="369.25" y1="31.04" x2="371.95" y2="31.04" stroke="#111" stroke-width="1.15"/>
<line x1="369.25" y1="42.67" x2="371.95" y2="42.67" stroke="#111" stroke-width="1.15"/>
<circle cx="370.6" cy="36.85" r="1.75" fill="#b8b8b8" stroke="#111" stroke-width="1.1"/>
<line x1="391.9" y1="29.45" x2="391.9" y2="37.91" stroke="#111" stroke-width="1.15"/>
<line x1="390.55" y1="29.45" x2="393.25" y2="29.45" stroke="#111" stroke-width="1.15"/>
<line x1="390.55" y1="37.91" x2="393.25" y2="37.91" stroke="#111" stroke-width="1.15"/>
<circle cx="391.9" cy="33.68" r="1.75" fill="#b8b8b8" stroke="#111" stroke-width="1.1"/>
<text transform="translate(304.6 109) rotate(-90) scale(0.98 1)" font-size="9.1" fill="#111" stroke="#111" stroke-width="0.22">Viable cells (%)</text>
<line x1="331.2" y1="110.4" x2="339.8" y2="110.4" stroke="#000" stroke-width="1.4"/>
<circle cx="335.4" cy="110.4" r="1.9" fill="#000" stroke="#111" stroke-width="1"/>
<text transform="translate(343.1 113.15)" font-size="7.7" fill="#111" stroke="#111" stroke-width="0.22">PBS</text>
<line x1="331.2" y1="117.85" x2="339.8" y2="117.85" stroke="#555" stroke-width="1.2"/>
<circle cx="335.4" cy="117.85" r="1.75" fill="#b8b8b8" stroke="#111" stroke-width="1.1"/>
<text transform="translate(343.1 120.6)" font-size="7.7" fill="#111" stroke="#111" stroke-width="0.22">Pam2-ODN</text>
<line x1="331.2" y1="125.3" x2="339.8" y2="125.3" stroke="#555" stroke-width="1.2" stroke-dasharray="2 1.6"/>
<path d="M333.8 124.02 L337 124.02 L335.4 126.9Z" fill="#fff" stroke="#111" stroke-width="0.9"/>
<text transform="translate(343.1 128.05)" font-size="7.7" fill="#111" stroke="#111" stroke-width="0.22">Ida/Ara</text>
<line x1="443" y1="23.5" x2="443" y2="132" stroke="#000" stroke-width="1.35"/>
<line x1="440" y1="131.5" x2="443" y2="131.5" stroke="#111" stroke-width="1.15"/>
<text transform="translate(437.1 134.35)" font-size="7.9" fill="#111" text-anchor="end" stroke="#111" stroke-width="0.22">0</text>
<line x1="440" y1="110.35" x2="443" y2="110.35" stroke="#111" stroke-width="1.15"/>
<text transform="translate(437.1 113.2)" font-size="7.9" fill="#111" text-anchor="end" stroke="#111" stroke-width="0.22">20</text>
<line x1="440" y1="89.2" x2="443" y2="89.2" stroke="#111" stroke-width="1.15"/>
<text transform="translate(437.1 92.05)" font-size="7.9" fill="#111" text-anchor="end" stroke="#111" stroke-width="0.22">40</text>
<line x1="440" y1="68.05" x2="443" y2="68.05" stroke="#111" stroke-width="1.15"/>
<text transform="translate(437.1 70.9)" font-size="7.9" fill="#111" text-anchor="end" stroke="#111" stroke-width="0.22">60</text>
<line x1="440" y1="46.9" x2="443" y2="46.9" stroke="#111" stroke-width="1.15"/>
<text transform="translate(437.1 49.75)" font-size="7.9" fill="#111" text-anchor="end" stroke="#111" stroke-width="0.22">80</text>
<line x1="440" y1="25.75" x2="443" y2="25.75" stroke="#111" stroke-width="1.15"/>
<text transform="translate(437.1 28.6)" font-size="7.9" fill="#111" text-anchor="end" stroke="#111" stroke-width="0.22">100</text>
<line x1="442.4" y1="131.5" x2="512.5" y2="131.5" stroke="#000" stroke-width="1.35"/>
<line x1="457.5" y1="27.34" x2="457.5" y2="28.5" stroke="#060606" stroke-width="1.2"/>
<line x1="456" y1="27.34" x2="459" y2="27.34" stroke="#060606" stroke-width="1.2"/>
<rect x="453.3" y="28.5" width="8.4" height="103" fill="#060606"/>
<line x1="471.45" y1="25.86" x2="471.45" y2="27.55" stroke="#5a5a5a" stroke-width="1.2"/>
<line x1="469.95" y1="25.86" x2="472.95" y2="25.86" stroke="#5a5a5a" stroke-width="1.2"/>
<rect x="467.25" y="27.55" width="8.4" height="103.95" fill="#5a5a5a"/>
<line x1="485.4" y1="115.53" x2="485.4" y2="116.38" stroke="#cfcfcf" stroke-width="1.2"/>
<line x1="483.9" y1="115.53" x2="486.9" y2="115.53" stroke="#cfcfcf" stroke-width="1.2"/>
<rect x="481.2" y="116.38" width="8.4" height="15.12" fill="#cfcfcf"/>
<line x1="499.35" y1="111.3" x2="499.35" y2="113.95" stroke="#989898" stroke-width="1.2"/>
<line x1="497.85" y1="111.3" x2="500.85" y2="111.3" stroke="#989898" stroke-width="1.2"/>
<rect x="495.15" y="113.95" width="8.4" height="17.55" fill="#989898"/>
<text transform="translate(419.6 107.6) rotate(-90) scale(0.97 1)" font-size="9.1" fill="#111" stroke="#111" stroke-width="0.22">Viable cells (%)</text>
<text transform="translate(460.3 139.7) rotate(-45)" font-size="8.2" fill="#111" text-anchor="end" stroke="#111" stroke-width="0.22">PBS</text>
<text transform="translate(474.3 139.7) rotate(-45)" font-size="8.2" fill="#111" text-anchor="end" stroke="#111" stroke-width="0.22">Pam2-ODN</text>
<text transform="translate(488.2 139.7) rotate(-45)" font-size="8.2" fill="#111" text-anchor="end" stroke="#111" stroke-width="0.22">Ida/Ara</text>
<text transform="translate(502.2 139.7) rotate(-45)" font-size="8.2" fill="#111" text-anchor="end" stroke="#111" stroke-width="0.22">Ida/Ara +</text>
<text transform="translate(508.7 147.5) rotate(-45)" font-size="8.2" fill="#111" text-anchor="end" stroke="#111" stroke-width="0.22">Pam2-ODN</text>
<line x1="201.6" y1="205" x2="201.6" y2="310.9" stroke="#000" stroke-width="1.35"/>
<line x1="198.6" y1="310.4" x2="201.6" y2="310.4" stroke="#111" stroke-width="1.15"/>
<text transform="translate(195.7 313.25)" font-size="7.9" fill="#111" text-anchor="end" stroke="#111" stroke-width="0.22">0</text>
<line x1="198.6" y1="287" x2="201.6" y2="287" stroke="#111" stroke-width="1.15"/>
<text transform="translate(195.7 289.85)" font-size="7.9" fill="#111" text-anchor="end" stroke="#111" stroke-width="0.22">50</text>
<line x1="198.6" y1="263.6" x2="201.6" y2="263.6" stroke="#111" stroke-width="1.15"/>
<text transform="translate(195.7 266.45)" font-size="7.9" fill="#111" text-anchor="end" stroke="#111" stroke-width="0.22">100</text>
<line x1="198.6" y1="240.2" x2="201.6" y2="240.2" stroke="#111" stroke-width="1.15"/>
<text transform="translate(195.7 243.05)" font-size="7.9" fill="#111" text-anchor="end" stroke="#111" stroke-width="0.22">150</text>
<line x1="198.6" y1="216.8" x2="201.6" y2="216.8" stroke="#111" stroke-width="1.15"/>
<text transform="translate(195.7 219.65)" font-size="7.9" fill="#111" text-anchor="end" stroke="#111" stroke-width="0.22">200</text>
<line x1="201" y1="310.4" x2="265.4" y2="310.4" stroke="#000" stroke-width="1.35"/>
<line x1="201.6" y1="310.4" x2="201.6" y2="313.4" stroke="#111" stroke-width="1"/>
<text transform="translate(201.5 322.9)" font-size="7.9" fill="#111" text-anchor="middle" stroke="#111" stroke-width="0.22">0</text>
<line x1="219.8" y1="310.4" x2="219.8" y2="313.4" stroke="#111" stroke-width="1"/>
<text transform="translate(219.7 322.9)" font-size="7.9" fill="#111" text-anchor="middle" stroke="#111" stroke-width="0.22">2</text>
<line x1="238" y1="310.4" x2="238" y2="313.4" stroke="#111" stroke-width="1"/>
<text transform="translate(237.9 322.9)" font-size="7.9" fill="#111" text-anchor="middle" stroke="#111" stroke-width="0.22">4</text>
<line x1="256.2" y1="310.4" x2="256.2" y2="313.4" stroke="#111" stroke-width="1"/>
<text transform="translate(256.1 322.9)" font-size="7.9" fill="#111" text-anchor="middle" stroke="#111" stroke-width="0.22">6</text>
<text transform="translate(194.2 335.3) scale(0.81 1)" font-size="10.6" fill="#111" stroke="#111" stroke-width="0.36">Days after treatment</text>
<polyline fill="none" stroke="#000" stroke-width="1.6" points="201.6,257.05 238,247.22 265.3,228.03"/>
<polyline fill="none" stroke="#444" stroke-width="1.3" points="201.6,261.49 238,247.22 265.3,229.44"/>
<line x1="201.6" y1="254.94" x2="201.6" y2="268.05" stroke="#111" stroke-width="1.15"/>
<line x1="200" y1="254.94" x2="203.2" y2="254.94" stroke="#111" stroke-width="1.15"/>
<line x1="200" y1="268.05" x2="203.2" y2="268.05" stroke="#111" stroke-width="1.15"/>
<line x1="238" y1="240.67" x2="238" y2="253.77" stroke="#111" stroke-width="1.15"/>
<line x1="236.4" y1="240.67" x2="239.6" y2="240.67" stroke="#111" stroke-width="1.15"/>
<line x1="236.4" y1="253.77" x2="239.6" y2="253.77" stroke="#111" stroke-width="1.15"/>
<line x1="265.3" y1="219.14" x2="265.3" y2="239.73" stroke="#111" stroke-width="1.15"/>
<line x1="263.7" y1="219.14" x2="266.9" y2="219.14" stroke="#111" stroke-width="1.15"/>
<line x1="263.7" y1="239.73" x2="266.9" y2="239.73" stroke="#111" stroke-width="1.15"/>
<line x1="201.6" y1="244.88" x2="201.6" y2="269.22" stroke="#111" stroke-width="1.15"/>
<line x1="200" y1="244.88" x2="203.2" y2="244.88" stroke="#111" stroke-width="1.15"/>
<line x1="200" y1="269.22" x2="203.2" y2="269.22" stroke="#111" stroke-width="1.15"/>
<line x1="238" y1="238.8" x2="238" y2="255.64" stroke="#111" stroke-width="1.15"/>
<line x1="236.4" y1="238.8" x2="239.6" y2="238.8" stroke="#111" stroke-width="1.15"/>
<line x1="236.4" y1="255.64" x2="239.6" y2="255.64" stroke="#111" stroke-width="1.15"/>
<line x1="265.3" y1="214.93" x2="265.3" y2="241.14" stroke="#111" stroke-width="1.15"/>
<line x1="263.7" y1="214.93" x2="266.9" y2="214.93" stroke="#111" stroke-width="1.15"/>
<line x1="263.7" y1="241.14" x2="266.9" y2="241.14" stroke="#111" stroke-width="1.15"/>
<circle cx="201.6" cy="257.05" r="1.9" fill="#000" stroke="#111" stroke-width="1"/>
<circle cx="238" cy="247.22" r="1.9" fill="#000" stroke="#111" stroke-width="1"/>
<circle cx="265.3" cy="228.03" r="1.9" fill="#000" stroke="#111" stroke-width="1"/>
<circle cx="201.6" cy="261.49" r="1.75" fill="#b8b8b8" stroke="#111" stroke-width="1.1"/>
<circle cx="238" cy="247.22" r="1.75" fill="#b8b8b8" stroke="#111" stroke-width="1.1"/>
<circle cx="265.3" cy="229.44" r="1.75" fill="#b8b8b8" stroke="#111" stroke-width="1.1"/>
<text transform="translate(167.2 300.9) rotate(-90) scale(0.98 1)" font-size="8.9" fill="#111" stroke="#111" stroke-width="0.22">Human CD45+ cells/µl</text>
<text transform="translate(178.5 282.8) rotate(-90) scale(1.01 1)" font-size="8.9" fill="#111" stroke="#111" stroke-width="0.22">mouse blood</text>
<line x1="204.3" y1="296.8" x2="212.6" y2="296.8" stroke="#000" stroke-width="1.4"/>
<circle cx="208.6" cy="296.8" r="1.9" fill="#000" stroke="#111" stroke-width="1"/>
<text transform="translate(213.4 299.6)" font-size="7.8" fill="#111" stroke="#111" stroke-width="0.22">PBS</text>
<line x1="204.3" y1="303.8" x2="212.6" y2="303.8" stroke="#555" stroke-width="1.2"/>
<circle cx="208.6" cy="303.8" r="1.75" fill="#b8b8b8" stroke="#111" stroke-width="1.1"/>
<text transform="translate(213.4 306.6)" font-size="7.8" fill="#111" stroke="#111" stroke-width="0.22">Pam2-ODN</text>
<line x1="315" y1="202.5" x2="315" y2="310.9" stroke="#000" stroke-width="1.35"/>
<line x1="312" y1="310.4" x2="315" y2="310.4" stroke="#111" stroke-width="1.15"/>
<text transform="translate(309.1 313.25)" font-size="7.9" fill="#111" text-anchor="end" stroke="#111" stroke-width="0.22">0</text>
<line x1="312" y1="289.19" x2="315" y2="289.19" stroke="#111" stroke-width="1.15"/>
<text transform="translate(309.1 292.04)" font-size="7.9" fill="#111" text-anchor="end" stroke="#111" stroke-width="0.22">20</text>
<line x1="312" y1="267.98" x2="315" y2="267.98" stroke="#111" stroke-width="1.15"/>
<text transform="translate(309.1 270.83)" font-size="7.9" fill="#111" text-anchor="end" stroke="#111" stroke-width="0.22">40</text>
<line x1="312" y1="246.77" x2="315" y2="246.77" stroke="#111" stroke-width="1.15"/>
<text transform="translate(309.1 249.62)" font-size="7.9" fill="#111" text-anchor="end" stroke="#111" stroke-width="0.22">60</text>
<line x1="312" y1="225.56" x2="315" y2="225.56" stroke="#111" stroke-width="1.15"/>
<text transform="translate(309.1 228.41)" font-size="7.9" fill="#111" text-anchor="end" stroke="#111" stroke-width="0.22">80</text>
<line x1="312" y1="204.35" x2="315" y2="204.35" stroke="#111" stroke-width="1.15"/>
<text transform="translate(309.1 207.2)" font-size="7.9" fill="#111" text-anchor="end" stroke="#111" stroke-width="0.22">100</text>
<line x1="314.4" y1="310.4" x2="423.6" y2="310.4" stroke="#000" stroke-width="1.35"/>
<line x1="315" y1="310.4" x2="315" y2="313.4" stroke="#111" stroke-width="1"/>
<text transform="translate(315 322.9)" font-size="7.9" fill="#111" text-anchor="middle" stroke="#111" stroke-width="0.22">0</text>
<line x1="340.34" y1="310.4" x2="340.34" y2="313.4" stroke="#111" stroke-width="1"/>
<text transform="translate(340.34 322.9)" font-size="7.9" fill="#111" text-anchor="middle" stroke="#111" stroke-width="0.22">20</text>
<line x1="365.68" y1="310.4" x2="365.68" y2="313.4" stroke="#111" stroke-width="1"/>
<text transform="translate(365.68 322.9)" font-size="7.9" fill="#111" text-anchor="middle" stroke="#111" stroke-width="0.22">40</text>
<line x1="391.02" y1="310.4" x2="391.02" y2="313.4" stroke="#111" stroke-width="1"/>
<text transform="translate(391.02 322.9)" font-size="7.9" fill="#111" text-anchor="middle" stroke="#111" stroke-width="0.22">60</text>
<line x1="416.36" y1="310.4" x2="416.36" y2="313.4" stroke="#111" stroke-width="1"/>
<text transform="translate(416.36 322.9)" font-size="7.9" fill="#111" text-anchor="middle" stroke="#111" stroke-width="0.22">80</text>
<text transform="translate(330.6 335.3) scale(0.83 1)" font-size="10.6" fill="#111" stroke="#111" stroke-width="0.36">Hours after infection</text>
<text transform="translate(291.6 280.6) rotate(-90)" font-size="9.1" fill="#111" stroke="#111" stroke-width="0.22">Survival (%)</text>
<g transform="translate(0 -0.4)">
<polyline fill="none" stroke="#4d4d4d" stroke-width="1.35" points="315,204.35 369.3,204.35 369.3,213.05 392.7,213.05 392.7,237.01 396.2,237.01 396.2,245.18 402.2,245.18 402.2,277.74 406.2,277.74 406.2,294.28 410.7,294.28 410.7,302.55 421.6,302.55 421.6,310.4"/>
</g><g transform="translate(0 1.1)">
<polyline fill="none" stroke="#000" stroke-width="1.6" points="315,204.35 354.5,204.35 354.5,236.16 369.1,236.16 369.1,293.22 382,293.22 382,310.4"/>
</g>
<text transform="translate(423.8 309.51)" font-size="4.6" fill="#000" text-anchor="middle" font-weight="bold" stroke="#000" stroke-width="0.4">*</text>
<line x1="316.9" y1="187.5" x2="322.4" y2="187.5" stroke="#000" stroke-width="1.6"/>
<text transform="translate(325.4 190.3) scale(0.94 1)" font-size="7.9" fill="#111" stroke="#111" stroke-width="0.22">AML</text>
<path d="M343.2 184.8 L349.1 187.5 L343.2 190.2Z" fill="#000"/>
<text transform="translate(349.4 190.3)" font-size="7.9" fill="#111" stroke="#111" stroke-width="0.22">PBS</text>
<line x1="316.9" y1="195" x2="322.4" y2="195" stroke="#484848" stroke-width="1.3"/>
<text transform="translate(325.4 197.8) scale(0.94 1)" font-size="7.9" fill="#111" stroke="#111" stroke-width="0.22">AML</text>
<path d="M343.2 192.3 L349.1 195 L343.2 197.7Z" fill="#000"/>
<text transform="translate(349.4 197.8)" font-size="7.9" fill="#111" stroke="#111" stroke-width="0.22">Pam2-ODN</text>
<line x1="466.8" y1="205.6" x2="466.8" y2="310.9" stroke="#000" stroke-width="1.35"/>
<line x1="463.8" y1="310.4" x2="466.8" y2="310.4" stroke="#111" stroke-width="1.15"/>
<text transform="translate(460.9 313.25)" font-size="7.9" fill="#111" text-anchor="end" stroke="#111" stroke-width="0.22">0</text>
<line x1="463.8" y1="279" x2="466.8" y2="279" stroke="#111" stroke-width="1.15"/>
<text transform="translate(460.9 281.85)" font-size="7.9" fill="#111" text-anchor="end" stroke="#111" stroke-width="0.22">4</text>
<line x1="463.8" y1="247.6" x2="466.8" y2="247.6" stroke="#111" stroke-width="1.15"/>
<text transform="translate(460.9 250.45)" font-size="7.9" fill="#111" text-anchor="end" stroke="#111" stroke-width="0.22">8</text>
<line x1="463.8" y1="216.2" x2="466.8" y2="216.2" stroke="#111" stroke-width="1.15"/>
<text transform="translate(460.9 219.05)" font-size="7.9" fill="#111" text-anchor="end" stroke="#111" stroke-width="0.22">12</text>
<line x1="466.2" y1="310.4" x2="509.5" y2="310.4" stroke="#000" stroke-width="1.35"/>
<line x1="480.9" y1="205.99" x2="480.9" y2="230.33" stroke="#111" stroke-width="1.2"/>
<line x1="479.3" y1="205.99" x2="482.5" y2="205.99" stroke="#111" stroke-width="1.2"/>
<rect x="476.7" y="230.33" width="8.6" height="80.07" fill="#060606"/>
<line x1="495.2" y1="302.86" x2="495.2" y2="304.9" stroke="#5a5a5a" stroke-width="1.2"/>
<line x1="494.1" y1="302.86" x2="496.3" y2="302.86" stroke="#5a5a5a" stroke-width="1.2"/>
<rect x="490.6" y="304.9" width="9.1" height="5.49" fill="#5a5a5a"/>
<text transform="translate(495.1 298.6)" font-size="4.8" fill="#000" text-anchor="middle" font-weight="bold" stroke="#000" stroke-width="0.45">*</text>
<text transform="translate(447.1 311.6) rotate(-90) scale(0.96 1)" font-size="8.9" fill="#111" stroke="#111" stroke-width="0.22"><tspan font-style="italic">P. aeruginosa</tspan> (CFU/ml ×10<tspan font-size="6.7" dy="-3">4</tspan><tspan dy="3">)</tspan></text>
<text transform="translate(482.2 320.6) rotate(-45)" font-size="8.3" fill="#111" text-anchor="end" stroke="#111" stroke-width="0.22">PBS</text>
<text transform="translate(498.6 320.6) rotate(-45)" font-size="8.3" fill="#111" text-anchor="end" stroke="#111" stroke-width="0.22">Pam2-ODN</text>
<line x1="190" y1="387.6" x2="190" y2="496.6" stroke="#000" stroke-width="1.35"/>
<line x1="187" y1="496.1" x2="190" y2="496.1" stroke="#111" stroke-width="1.15"/>
<text transform="translate(184.1 498.95)" font-size="7.9" fill="#111" text-anchor="end" stroke="#111" stroke-width="0.22">0</text>
<line x1="187" y1="469.55" x2="190" y2="469.55" stroke="#111" stroke-width="1.15"/>
<text transform="translate(184.1 472.4)" font-size="7.9" fill="#111" text-anchor="end" stroke="#111" stroke-width="0.22">5</text>
<line x1="187" y1="443" x2="190" y2="443" stroke="#111" stroke-width="1.15"/>
<text transform="translate(184.1 445.85)" font-size="7.9" fill="#111" text-anchor="end" stroke="#111" stroke-width="0.22">10</text>
<line x1="187" y1="416.45" x2="190" y2="416.45" stroke="#111" stroke-width="1.15"/>
<text transform="translate(184.1 419.3)" font-size="7.9" fill="#111" text-anchor="end" stroke="#111" stroke-width="0.22">15</text>
<line x1="187" y1="389.9" x2="190" y2="389.9" stroke="#111" stroke-width="1.15"/>
<text transform="translate(184.1 392.75)" font-size="7.9" fill="#111" text-anchor="end" stroke="#111" stroke-width="0.22">20</text>
<line x1="189.4" y1="496.1" x2="233" y2="496.1" stroke="#000" stroke-width="1.35"/>
<line x1="204.85" y1="394.15" x2="204.85" y2="420.43" stroke="#060606" stroke-width="1.2"/>
<line x1="203.25" y1="394.15" x2="206.45" y2="394.15" stroke="#060606" stroke-width="1.2"/>
<rect x="200.8" y="420.43" width="8.1" height="75.67" fill="#060606"/>
<line x1="218.1" y1="461.85" x2="218.1" y2="474.06" stroke="#5a5a5a" stroke-width="1.2"/>
<line x1="216.5" y1="461.85" x2="219.7" y2="461.85" stroke="#5a5a5a" stroke-width="1.2"/>
<rect x="213.8" y="474.06" width="8.6" height="22.04" fill="#5a5a5a"/>
<text transform="translate(211.6 385)" font-size="9.4" fill="#111" text-anchor="middle" stroke="#111" stroke-width="0.22">Lungs</text>
<text transform="translate(207.7 504.4) rotate(-45)" font-size="8.2" fill="#111" text-anchor="end" stroke="#111" stroke-width="0.22">PBS</text>
<text transform="translate(221.2 504.4) rotate(-45)" font-size="8.2" fill="#111" text-anchor="end" stroke="#111" stroke-width="0.22">Pam2-ODN</text>
<text transform="translate(171.1 497) rotate(-90) scale(0.97 1)" font-size="8.9" fill="#111" stroke="#111" stroke-width="0.22"><tspan font-style="italic">P. aeruginosa</tspan> (CFU/ml ×10<tspan font-size="6.7" dy="-3">6</tspan><tspan dy="3">)</tspan></text>
<line x1="266.2" y1="387.6" x2="266.2" y2="496.6" stroke="#000" stroke-width="1.35"/>
<line x1="263.2" y1="496.1" x2="266.2" y2="496.1" stroke="#111" stroke-width="1.15"/>
<text transform="translate(260.3 498.95)" font-size="7.9" fill="#111" text-anchor="end" stroke="#111" stroke-width="0.22">0</text>
<line x1="263.2" y1="461.95" x2="266.2" y2="461.95" stroke="#111" stroke-width="1.15"/>
<text transform="translate(260.3 464.8)" font-size="7.9" fill="#111" text-anchor="end" stroke="#111" stroke-width="0.22">1</text>
<line x1="263.2" y1="427.8" x2="266.2" y2="427.8" stroke="#111" stroke-width="1.15"/>
<text transform="translate(260.3 430.65)" font-size="7.9" fill="#111" text-anchor="end" stroke="#111" stroke-width="0.22">2</text>
<line x1="263.2" y1="393.65" x2="266.2" y2="393.65" stroke="#111" stroke-width="1.15"/>
<text transform="translate(260.3 396.5)" font-size="7.9" fill="#111" text-anchor="end" stroke="#111" stroke-width="0.22">3</text>
<line x1="265.6" y1="496.1" x2="308.4" y2="496.1" stroke="#000" stroke-width="1.35"/>
<line x1="280.45" y1="392.97" x2="280.45" y2="427.12" stroke="#060606" stroke-width="1.2"/>
<line x1="278.85" y1="392.97" x2="282.05" y2="392.97" stroke="#060606" stroke-width="1.2"/>
<rect x="276.3" y="427.12" width="8.3" height="68.98" fill="#060606"/>
<line x1="294.55" y1="434.12" x2="294.55" y2="453.58" stroke="#5a5a5a" stroke-width="1.2"/>
<line x1="292.95" y1="434.12" x2="296.15" y2="434.12" stroke="#5a5a5a" stroke-width="1.2"/>
<rect x="290.2" y="453.58" width="8.7" height="42.52" fill="#5a5a5a"/>
<text transform="translate(287.3 385)" font-size="9.4" fill="#111" text-anchor="middle" stroke="#111" stroke-width="0.22">Spleen</text>
<text transform="translate(281.2 504.4) rotate(-45)" font-size="8.2" fill="#111" text-anchor="end" stroke="#111" stroke-width="0.22">PBS</text>
<text transform="translate(297.7 504.4) rotate(-45)" font-size="8.2" fill="#111" text-anchor="end" stroke="#111" stroke-width="0.22">Pam2-ODN</text>
<text transform="translate(250.9 497) rotate(-90) scale(0.97 1)" font-size="8.9" fill="#111" stroke="#111" stroke-width="0.22"><tspan font-style="italic">P. aeruginosa</tspan> (CFU/ml ×10<tspan font-size="6.7" dy="-3">3</tspan><tspan dy="3">)</tspan></text>
<line x1="346.2" y1="387.6" x2="346.2" y2="496.6" stroke="#000" stroke-width="1.35"/>
<line x1="343.2" y1="496.1" x2="346.2" y2="496.1" stroke="#111" stroke-width="1.15"/>
<text transform="translate(340.3 498.95)" font-size="7.9" fill="#111" text-anchor="end" stroke="#111" stroke-width="0.22">0</text>
<line x1="343.2" y1="463.3" x2="346.2" y2="463.3" stroke="#111" stroke-width="1.15"/>
<text transform="translate(340.3 466.15)" font-size="7.9" fill="#111" text-anchor="end" stroke="#111" stroke-width="0.22">4</text>
<line x1="343.2" y1="430.5" x2="346.2" y2="430.5" stroke="#111" stroke-width="1.15"/>
<text transform="translate(340.3 433.35)" font-size="7.9" fill="#111" text-anchor="end" stroke="#111" stroke-width="0.22">8</text>
<line x1="343.2" y1="397.7" x2="346.2" y2="397.7" stroke="#111" stroke-width="1.15"/>
<text transform="translate(340.3 400.55)" font-size="7.9" fill="#111" text-anchor="end" stroke="#111" stroke-width="0.22">12</text>
<line x1="345.6" y1="496.1" x2="389.6" y2="496.1" stroke="#000" stroke-width="1.35"/>
<line x1="360.45" y1="391.55" x2="360.45" y2="432.96" stroke="#060606" stroke-width="1.2"/>
<line x1="358.85" y1="391.55" x2="362.05" y2="391.55" stroke="#060606" stroke-width="1.2"/>
<rect x="356.3" y="432.96" width="8.3" height="63.14" fill="#060606"/>
<line x1="374.5" y1="456.58" x2="374.5" y2="469.86" stroke="#5a5a5a" stroke-width="1.2"/>
<line x1="372.9" y1="456.58" x2="376.1" y2="456.58" stroke="#5a5a5a" stroke-width="1.2"/>
<rect x="370.2" y="469.86" width="8.6" height="26.24" fill="#5a5a5a"/>
<text transform="translate(367.8 385)" font-size="9.4" fill="#111" text-anchor="middle" stroke="#111" stroke-width="0.22">Blood</text>
<text transform="translate(362.7 504.4) rotate(-45)" font-size="8.2" fill="#111" text-anchor="end" stroke="#111" stroke-width="0.22">PBS</text>
<text transform="translate(377.4 504.4) rotate(-45)" font-size="8.2" fill="#111" text-anchor="end" stroke="#111" stroke-width="0.22">Pam2-ODN</text>
<text transform="translate(326.9 497) rotate(-90) scale(0.97 1)" font-size="8.9" fill="#111" stroke="#111" stroke-width="0.22"><tspan font-style="italic">P. aeruginosa</tspan> (CFU/ml ×10<tspan font-size="6.7" dy="-3">2</tspan><tspan dy="3">)</tspan></text>
<rect x="0" y="0" width="520" height="1" fill="#000"/>
<rect x="0" y="0" width="0.95" height="540" fill="#000"/>
<rect x="519" y="0" width="1" height="540" fill="#000"/>
<rect x="0" y="538.7" width="520" height="1.3" fill="#000"/>
</svg>
</body>
</html>
